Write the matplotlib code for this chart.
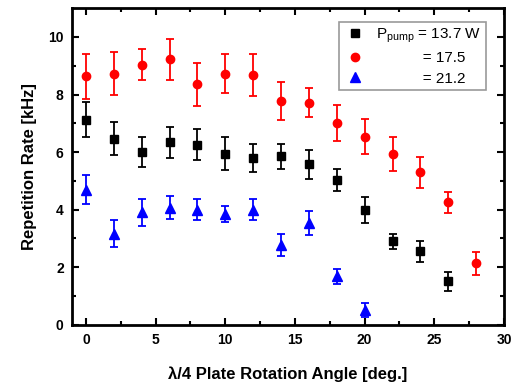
import numpy as np
import matplotlib
matplotlib.use('Agg')
from matplotlib import pyplot as plt
from matplotlib.lines import Line2D

plt.rcParams['font.family'] = ['Liberation Sans', 'DejaVu Sans']
plt.rcParams['mathtext.fontset'] = 'custom'
plt.rcParams['mathtext.rm'] = 'Liberation Sans'

# rotation angle (deg) and repetition rate (kHz) for each pump power
x_137 = [0, 2, 4, 6, 8, 10, 12, 14, 16, 18, 20, 22, 24, 26]
y_137 = [7.13, 6.47, 6.0, 6.34, 6.26, 5.95, 5.8, 5.85, 5.57, 5.04, 4.0, 2.9, 2.55, 1.51]
e_137 = [0.61, 0.58, 0.53, 0.54, 0.54, 0.58, 0.49, 0.43, 0.5, 0.38, 0.45, 0.25, 0.36, 0.34]

x_175 = [0, 2, 4, 6, 8, 10, 12, 14, 16, 18, 20, 22, 24, 26, 28]
y_175 = [8.64, 8.72, 9.04, 9.22, 8.36, 8.73, 8.67, 7.77, 7.71, 7.01, 6.53, 5.94, 5.3, 4.25, 2.14]
e_175 = [0.78, 0.74, 0.55, 0.7, 0.75, 0.67, 0.73, 0.65, 0.5, 0.62, 0.61, 0.6, 0.54, 0.37, 0.4]

x_212 = [0, 2, 4, 6, 8, 10, 12, 14, 16, 18, 20]
y_212 = [4.7, 3.17, 3.91, 4.06, 4.0, 3.86, 4.0, 2.78, 3.54, 1.68, 0.52]
e_212 = [0.52, 0.48, 0.47, 0.4, 0.37, 0.28, 0.37, 0.38, 0.42, 0.25, 0.25]

labels = [r'P$_{\rm pump}$ = 13.7 W', '           = 17.5', '           = 21.2']

fig = plt.figure(figsize=(5.18, 3.89), dpi=100)
ax = fig.add_axes([0.139, 0.165, 0.834, 0.814])

ax.errorbar(x_137, y_137, yerr=e_137, fmt='s', color='black', ms=5.5,
            capsize=2.6, elinewidth=1.3, capthick=1.3)
ax.errorbar(x_175, y_175, yerr=e_175, fmt='o', color='#ff0000', ms=6,
            capsize=2.6, elinewidth=1.3, capthick=1.3)
ax.errorbar(x_212, y_212, yerr=e_212, fmt='^', color='#0000ff', ms=7,
            capsize=2.6, elinewidth=1.3, capthick=1.3)

ax.set_xlim(-1, 30)
ax.set_ylim(0, 11)
ax.set_xticks([0, 5, 10, 15, 20, 25, 30])
ax.set_xticks([2.5, 7.5, 12.5, 17.5, 22.5, 27.5], minor=True)
ax.set_yticks([0, 2, 4, 6, 8, 10])
ax.set_yticks([1, 3, 5, 7, 9], minor=True)
ax.tick_params(which='both', direction='in', top=True, right=True, width=1.5)
ax.tick_params(which='major', length=5, labelsize=10, pad=6)
ax.tick_params(which='minor', length=3)
for lbl in ax.get_xticklabels() + ax.get_yticklabels():
    lbl.set_fontweight('bold')
for sp in ax.spines.values():
    sp.set_linewidth(2)

ax.set_xlabel('λ/4 Plate Rotation Angle [deg.]', fontsize=12, fontweight='bold', labelpad=14)
ax.set_ylabel('Repetition Rate [kHz]', fontsize=12, fontweight='bold', labelpad=8)

# legend shows markers only
handles = [Line2D([], [], ls='none', marker='s', color='black', ms=5.5),
           Line2D([], [], ls='none', marker='o', color='#ff0000', ms=6),
           Line2D([], [], ls='none', marker='^', color='#0000ff', ms=7)]
leg = ax.legend(handles, labels, loc='upper right', fontsize=11, frameon=True, fancybox=False,
                handletextpad=0.6, borderpad=0.3, labelspacing=0.4, handlelength=1.5,
                bbox_to_anchor=(0.975, 0.98))
leg.get_frame().set_edgecolor('gray')
leg.get_frame().set_linewidth(1.2)

plt.savefig('out.png', dpi=100)
